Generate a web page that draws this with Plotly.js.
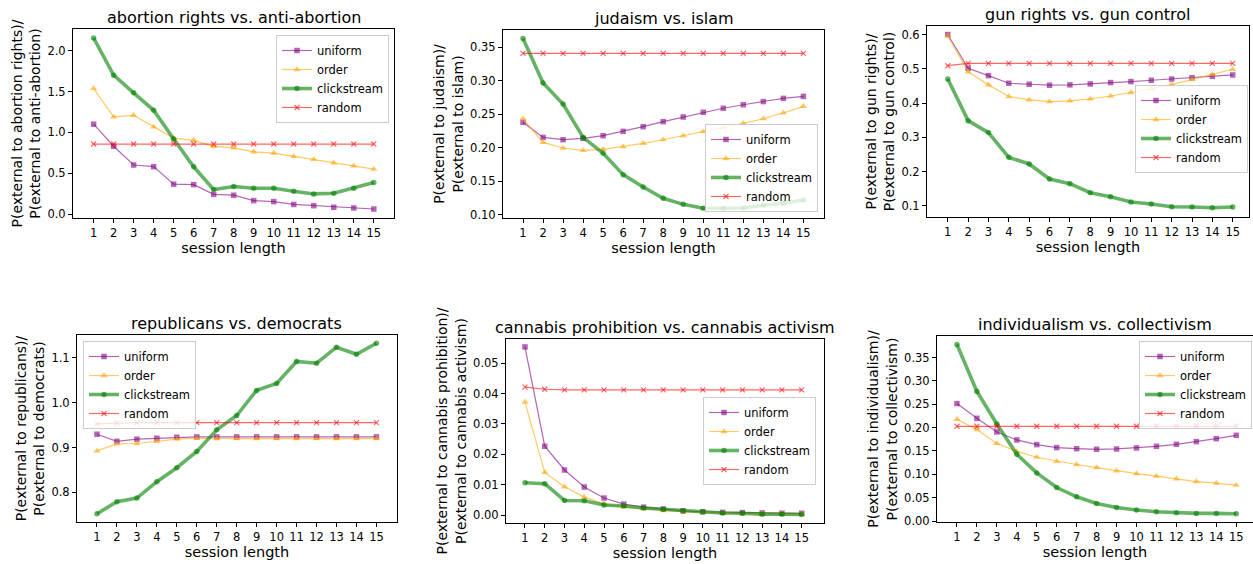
<!DOCTYPE html>
<html>
<head>
<meta charset="utf-8">
<script src="https://cdn.plot.ly/plotly-3.0.1.min.js"></script>
<style>html,body{margin:0;padding:0;background:#fff;}#chart{width:1253px;height:564px;}</style>
</head>
<body>
<div id="chart"></div>
<script>
// ---------------- data ----------------
const sessionLength = [1, 2, 3, 4, 5, 6, 7, 8, 9, 10, 11, 12, 13, 14, 15];
const seriesNames = ['uniform', 'order', 'clickstream', 'random'];

const panelTitles = [
  'abortion rights vs. anti-abortion',
  'judaism vs. islam',
  'gun rights vs. gun control',
  'republicans vs. democrats',
  'cannabis prohibition vs. cannabis activism',
  'individualism vs. collectivism'
];
const yTitles = [
  'P(external to abortion rights)/<br>P(external to anti-abortion)',
  'P(external to judaism)/<br>P(external to islam)',
  'P(external to gun rights)/<br>P(external to gun control)',
  'P(external to republicans)/<br>P(external to democrats)',
  'P(external to cannabis prohibition)/<br>P(external to cannabis activism)',
  'P(external to individualism)/<br>P(external to collectivism)'
];
const xTitle = 'session length';

// abortion rights vs. anti-abortion
const abortionUniform     = [1.10, 0.83, 0.60, 0.58, 0.365, 0.36, 0.24, 0.23, 0.164, 0.152, 0.117, 0.102, 0.082, 0.074, 0.061];
const abortionOrder       = [1.537, 1.189, 1.209, 1.066, 0.93, 0.902, 0.828, 0.811, 0.762, 0.746, 0.705, 0.668, 0.627, 0.59, 0.549];
const abortionClickstream = [2.156, 1.701, 1.484, 1.27, 0.918, 0.578, 0.299, 0.336, 0.316, 0.316, 0.279, 0.246, 0.254, 0.316, 0.385];
const abortionRandom      = [0.857, 0.857, 0.857, 0.857, 0.857, 0.857, 0.857, 0.857, 0.857, 0.857, 0.857, 0.857, 0.857, 0.857, 0.857];

// judaism vs. islam
const judaismUniform     = [0.238, 0.2155, 0.212, 0.214, 0.218, 0.2245, 0.2315, 0.239, 0.246, 0.253, 0.259, 0.2643, 0.269, 0.2738, 0.2768];
const judaismOrder       = [0.2434, 0.208, 0.1996, 0.196, 0.1976, 0.2016, 0.2066, 0.212, 0.218, 0.224, 0.230, 0.2365, 0.2434, 0.252, 0.2619];
const judaismClickstream = [0.3634, 0.2967, 0.2653, 0.2155, 0.1916, 0.1598, 0.1413, 0.1244, 0.1154, 0.1095, 0.1095, 0.110, 0.114, 0.117, 0.122];
const judaismRandom      = [0.341, 0.341, 0.341, 0.341, 0.341, 0.341, 0.341, 0.341, 0.341, 0.341, 0.341, 0.341, 0.341, 0.341, 0.341];

// gun rights vs. gun control
const gunUniform     = [0.600, 0.5016, 0.480, 0.4577, 0.4548, 0.452, 0.453, 0.4558, 0.4597, 0.4626, 0.4665, 0.470, 0.474, 0.478, 0.482];
const gunOrder       = [0.596, 0.491, 0.453, 0.419, 0.409, 0.404, 0.406, 0.412, 0.4205, 0.4304, 0.4411, 0.4538, 0.469, 0.483, 0.4986];
const gunClickstream = [0.470, 0.3485, 0.3135, 0.2413, 0.222, 0.178, 0.1643, 0.138, 0.1263, 0.1107, 0.1049, 0.097, 0.096, 0.094, 0.096];
const gunRandom      = [0.509, 0.5156, 0.5156, 0.5156, 0.5156, 0.5156, 0.5156, 0.5156, 0.5156, 0.5156, 0.5156, 0.5156, 0.5156, 0.5156, 0.5156];

// republicans vs. democrats
const repUniform     = [0.9297, 0.914, 0.9186, 0.9208, 0.923, 0.9238, 0.9238, 0.9238, 0.9238, 0.9238, 0.9238, 0.9238, 0.9238, 0.9238, 0.9238];
const repOrder       = [0.8926, 0.908, 0.909, 0.914, 0.9186, 0.921, 0.920, 0.920, 0.920, 0.920, 0.920, 0.920, 0.920, 0.920, 0.920];
const repClickstream = [0.7525, 0.779, 0.7874, 0.8238, 0.855, 0.8913, 0.9396, 0.9715, 1.0275, 1.043, 1.092, 1.088, 1.1238, 1.108, 1.1327];
const repRandom      = [0.9527, 0.9547, 0.9555, 0.9555, 0.9555, 0.9555, 0.9555, 0.9555, 0.9555, 0.9555, 0.9555, 0.9555, 0.9555, 0.9555, 0.9555];

// cannabis prohibition vs. cannabis activism
const cannabisUniform     = [0.0553, 0.0227, 0.0149, 0.0093, 0.0057, 0.0037, 0.0027, 0.0021, 0.0015, 0.0012, 0.0010, 0.0009, 0.0008, 0.0007, 0.0007];
const cannabisOrder       = [0.0372, 0.0141, 0.0094, 0.0060, 0.0038, 0.0028, 0.0021, 0.0016, 0.0012, 0.0010, 0.0008, 0.0007, 0.0005, 0.0005, 0.0004];
const cannabisClickstream = [0.0107, 0.0104, 0.0049, 0.0048, 0.0034, 0.0031, 0.0024, 0.0020, 0.0014, 0.0011, 0.0008, 0.0007, 0.0004, 0.0004, 0.0003];
const cannabisRandom      = [0.0421, 0.0414, 0.0412, 0.0412, 0.0412, 0.0412, 0.0412, 0.0412, 0.0412, 0.0412, 0.0412, 0.0412, 0.0412, 0.0412, 0.0412];

// individualism vs. collectivism
const indivUniform     = [0.2514, 0.2199, 0.1907, 0.1736, 0.1636, 0.1572, 0.155, 0.1536, 0.1543, 0.1565, 0.160, 0.1643, 0.170, 0.1764, 0.1835];
const indivOrder       = [0.2178, 0.1957, 0.166, 0.149, 0.1366, 0.128, 0.121, 0.1145, 0.1074, 0.1017, 0.096, 0.0903, 0.0846, 0.081, 0.0768];
const indivClickstream = [0.3778, 0.2775, 0.2077, 0.143, 0.1031, 0.0718, 0.052, 0.0377, 0.0292, 0.0235, 0.020, 0.0178, 0.0164, 0.0164, 0.0156];
const indivRandom      = [0.2028, 0.2028, 0.2028, 0.2028, 0.2028, 0.2028, 0.2028, 0.2028, 0.2028, 0.2028, 0.2028, 0.2028, 0.2028, 0.2028, 0.2028];

const panelSeries = [
  [abortionUniform, abortionOrder, abortionClickstream, abortionRandom],
  [judaismUniform, judaismOrder, judaismClickstream, judaismRandom],
  [gunUniform, gunOrder, gunClickstream, gunRandom],
  [repUniform, repOrder, repClickstream, repRandom],
  [cannabisUniform, cannabisOrder, cannabisClickstream, cannabisRandom],
  [indivUniform, indivOrder, indivClickstream, indivRandom]
];

// ---------------- layout constants ----------------
const W = 1253, H = 564;
const FONT = 'DejaVu Sans, sans-serif';
// axes boxes in pixels: [left, right, top, bottom]
const boxes = [
  [73, 394, 29, 218],
  [503, 824, 30, 218],
  [927, 1249, 26, 217],
  [77, 397, 335, 522],
  [506, 824, 339, 523],
  [937, 1253, 336, 522]
];
const xRanges = [[-0.03, 16.01], [0.0, 16.03], [-0.02, 15.8], [0.0, 16.03], [0.04, 16.13], [0.0, 15.84]];
const yRanges = [[-0.049, 2.266], [0.095, 0.376], [0.067, 0.625], [0.734, 1.151], [-0.0025, 0.0579], [-0.002, 0.396]];
const yDticks = [0.5, 0.05, 0.1, 0.1, 0.01, 0.05];
const yFormats = ['.1f', '.2f', '.1f', '.1f', '.2f', '.2f'];
// legend anchor px: [x, y, xanchor, yanchor]
const legendPos = [
  [389, 35, 'right', 'top'],
  [818, 212, 'right', 'bottom'],
  [1248, 85, 'right', 'top'],
  [83, 341, 'left', 'top'],
  [816, 397, 'right', 'top'],
  [1252, 341, 'right', 'top']
];

const styles = [
  {color: 'rgba(128,0,128,0.6)', width: 1.2, symbol: 'square', size: 5.5},
  {color: 'rgba(255,165,0,0.6)', width: 1.2, symbol: 'triangle-up', size: 6.5},
  {color: 'rgba(0,128,0,0.6)', width: 3.6, symbol: 'circle', size: 5.5},
  {color: 'rgba(255,0,0,0.6)', width: 1.2, symbol: 'x-thin', size: 5}
];

const traces = [];
const layout = {
  width: W, height: H, autosize: false,
  margin: {l: 0, r: 0, t: 0, b: 0},
  paper_bgcolor: '#ffffff', plot_bgcolor: '#ffffff',
  font: {family: FONT, color: '#000000', size: 11},
  annotations: []
};

for (let p = 0; p < 6; p++) {
  const n = p + 1;
  const sfx = n === 1 ? '' : String(n);
  const legName = n === 1 ? 'legend' : 'legend' + n;
  const [l, r, t, b] = boxes[p];
  const xd = [l / W, Math.min(r / W, 1)];
  const yd = [1 - b / H, 1 - t / H];

  for (let s = 0; s < 4; s++) {
    const st = styles[s];
    const marker = {symbol: st.symbol, size: st.size, color: st.color, line: {width: 0}};
    if (st.symbol === 'x-thin') marker.line = {width: 1.2, color: st.color};
    traces.push({
      type: 'scatter', mode: 'lines+markers',
      x: sessionLength, y: panelSeries[p][s],
      name: seriesNames[s],
      xaxis: 'x' + sfx, yaxis: 'y' + sfx,
      legend: legName,
      line: {color: st.color, width: st.width},
      marker: marker,
      hoverinfo: 'x+y+name'
    });
  }

  layout['xaxis' + sfx] = {
    domain: xd, anchor: 'y' + sfx, range: xRanges[p],
    tickmode: 'array', tickvals: sessionLength, ticktext: sessionLength.map(String),
    showgrid: false, zeroline: false,
    showline: true, mirror: true, linecolor: '#000000', linewidth: 1,
    ticks: 'outside', ticklen: 4, tickwidth: 1, tickcolor: '#000000',
    tickfont: {family: FONT, size: 11.5, color: '#000000'},
    title: {text: xTitle, font: {family: FONT, size: 14.5, color: '#000000'}, standoff: 4},
    automargin: false, fixedrange: true
  };
  layout['yaxis' + sfx] = {
    domain: yd, anchor: 'x' + sfx, range: yRanges[p],
    tick0: 0, dtick: yDticks[p], tickformat: yFormats[p],
    showgrid: false, zeroline: false,
    showline: true, mirror: true, linecolor: '#000000', linewidth: 1,
    ticks: 'outside', ticklen: 4, tickwidth: 1, tickcolor: '#000000',
    tickfont: {family: FONT, size: 11.5, color: '#000000'},
    title: {text: yTitles[p], font: {family: FONT, size: 14, color: '#000000'}, standoff: 3},
    automargin: false, fixedrange: true
  };

  const lp = legendPos[p];
  layout[legName] = {
    x: lp[0] / W, y: 1 - lp[1] / H, xanchor: lp[2], yanchor: lp[3],
    xref: 'paper', yref: 'paper',
    bgcolor: 'rgba(255,255,255,0.8)', bordercolor: '#cccccc', borderwidth: 1,
    font: {family: FONT, size: 11.5, color: '#000000'},
    tracegroupgap: 0, itemclick: false, itemdoubleclick: false
  };

  layout.annotations.push({
    text: panelTitles[p], xref: 'paper', yref: 'paper',
    x: (xd[0] + (r / W)) / 2, y: yd[1], xanchor: 'center', yanchor: 'middle', yshift: 12,
    showarrow: false, font: {family: FONT, size: 16, color: '#000000'}
  });
}

Plotly.newPlot('chart', traces, layout, {displayModeBar: false, responsive: false, staticPlot: false});
</script>
</body>
</html>
